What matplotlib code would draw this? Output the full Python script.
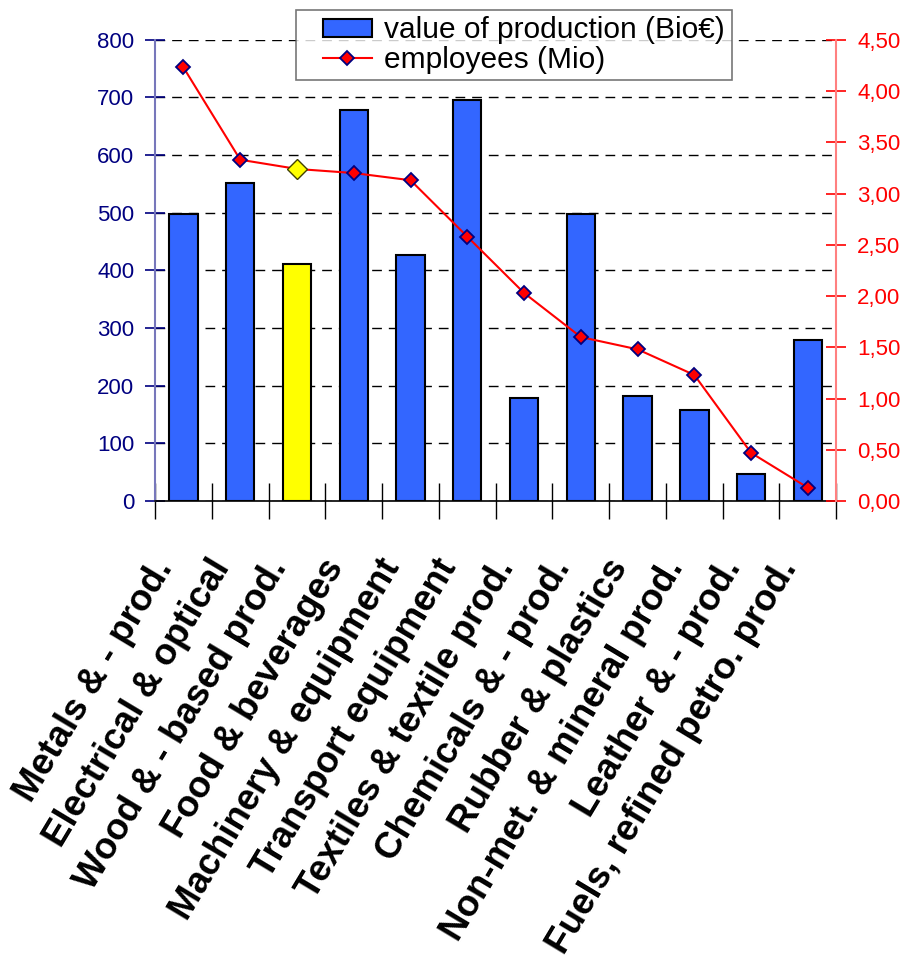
import numpy as np
import matplotlib.pyplot as plt
from matplotlib.ticker import FuncFormatter, MultipleLocator
from matplotlib.transforms import ScaledTranslation
from matplotlib.legend_handler import HandlerPatch, HandlerLine2D

plt.rcParams['font.family'] = ['Liberation Sans', 'DejaVu Sans']

sectors = ['Metals & - prod.', 'Electrical & optical', 'Wood & - based prod.',
           'Food & beverages', 'Machinery & equipment', 'Transport equipment',
           'Textiles & textile prod.', 'Chemicals & - prod.', 'Rubber & plastics',
           'Non-met. & mineral prod.', 'Leather & - prod.', 'Fuels, refined petro. prod.']
production = [497, 551, 411, 679, 427, 696, 179, 497, 182, 158, 47, 279]
employees = [4.23, 3.33, 3.24, 3.20, 3.13, 2.58, 2.03, 1.60, 1.48, 1.23, 0.47, 0.13]
highlight = 2

x = np.arange(len(sectors))
colors = ['#FFFF00' if i == highlight else '#3366FF' for i in range(len(sectors))]

fig = plt.figure(figsize=(9.07, 9.71), dpi=100)
ax = fig.add_axes([0.171, 0.484, 0.751, 0.475])
ax2 = ax.twinx()

bars = ax.bar(x, production, width=0.5, color=colors, edgecolor='black', linewidth=1.5,
              zorder=3, label='value of production (Bio€)')
line, = ax2.plot(x, employees, color='red', lw=1.5, marker='D', ms=7,
                 mfc='red', mec='#000080', mew=1.3, label='employees (Mio)', zorder=4)
ax2.plot(x[highlight], employees[highlight], marker='D', ms=10, mfc='#FFFF00',
         mec='#404000', mew=1, ls='none', zorder=5)

ax.set_xlim(-0.5, len(sectors) - 0.5)
ax.set_ylim(0, 800)
ax2.set_ylim(0, 4.5)
ax.yaxis.set_major_locator(MultipleLocator(100))
ax2.yaxis.set_major_locator(MultipleLocator(0.5))
ax2.yaxis.set_major_formatter(FuncFormatter(lambda v, p: f'{v:.2f}'.replace('.', ',')))

ax.grid(axis='y', color='black', ls=(0, (7, 5)), lw=1, zorder=0)
ax.set_axisbelow(True)

ax.set_xticks(x)
ax.set_xticklabels(sectors, rotation=59, ha='right', va='center', rotation_mode='anchor',
                   fontsize=26.5, fontweight='bold')
ax.tick_params(axis='x', which='major', length=0, pad=44)
ax.set_xticks(np.arange(-0.5, len(sectors)), minor=True)
ax.tick_params(axis='x', which='minor', direction='inout', length=26, width=1, color='black')
shift = ScaledTranslation(-18 / 100, 0, fig.dpi_scale_trans)
for lab in ax.get_xticklabels():
    lab.set_transform(lab.get_transform() + shift)

ax.tick_params(axis='y', direction='inout', length=14, width=1.2, colors='#000080',
               labelsize=16, pad=8)
ax2.tick_params(axis='y', direction='inout', length=14, width=1.2, colors='red',
                labelsize=16, pad=8)

for a in (ax, ax2):
    a.spines['top'].set_visible(False)
ax.spines['left'].set_color('#7777BB')
ax.spines['left'].set_linewidth(1.5)
ax2.spines['left'].set_visible(False)
ax.spines['right'].set_visible(False)
ax2.spines['right'].set_color('#FF8080')
ax2.spines['right'].set_linewidth(1.5)
ax2.spines['bottom'].set_visible(False)
ax.spines['bottom'].set_color('black')
ax.spines['bottom'].set_linewidth(1.2)

bar_handle = bars.patches[0]
leg = fig.legend([bar_handle, line], ['value of production (Bio€)', 'employees (Mio)'],
                 loc='upper left', bbox_to_anchor=(0.326, 0.99), borderaxespad=0,
                 fontsize=21.5, frameon=True, fancybox=False, edgecolor='#555555',
                 borderpad=0.22, handlelength=2.35, handleheight=0.55, handletextpad=0.4,
                 labelspacing=0.05,
                 handler_map={bar_handle: HandlerPatch(xpad=0.68),
                              line: HandlerLine2D(xpad=0.68)})
leg.get_frame().set_linewidth(1.2)

fig.savefig('out.png', dpi=100)
